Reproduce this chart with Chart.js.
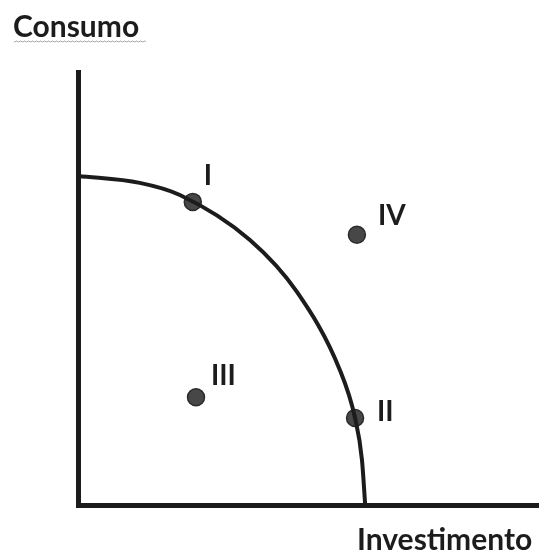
<!DOCTYPE html>
<html>
<head>
<meta charset="utf-8">
<script src="https://cdn.jsdelivr.net/npm/chart.js@4"></script>
<style>
  html, body { margin: 0; padding: 0; background: #fff; overflow: hidden; }
  #wrap { position: relative; width: 539px; height: 553px; }
</style>
</head>
<body>
<div id="wrap"><canvas id="ppf"></canvas></div>
<script>
// frontier (Investimento, Consumo)
const frontierX = [0, 13.4, 22.1, 37.3, 47.5, 56.8, 60.1, 61.6, 62.3];
const frontierY = [76, 74.4, 71.6, 61.2, 49.2, 31.2, 20.1, 10.4, 0];

// the four labelled combinations
const pointNames = ["I", "II", "III", "IV"];
const pointX = [24.9, 60.1, 25.6, 60.5];
const pointY = [70, 20.1, 24.9, 62.4];

const xTitle = "Investimento";
const yTitle = "Consumo";

const ink = "#1c1c1c";
const family = "Lato, 'Open Sans', sans-serif";

// roman numerals next to each point, plus the two axis names
const textPlugin = {
  id: "ppfText",
  afterDraw(chart) {
    const ctx = chart.ctx;
    const xs = chart.scales.x, ys = chart.scales.y;
    const offsets = [[11, -26], [22, -6], [15, -21], [21, -19]];
    ctx.save();
    ctx.fillStyle = ink;
    ctx.font = "bold 28px " + family;
    ctx.textAlign = "left";
    ctx.textBaseline = "middle";
    pointNames.forEach((name, i) => {
      const px = xs.getPixelForValue(pointX[i]);
      const py = ys.getPixelForValue(pointY[i]);
      ctx.fillText(name, px + offsets[i][0], py + offsets[i][1]);
    });

    ctx.font = "bold 30px " + family;
    ctx.textBaseline = "alphabetic";
    ctx.fillText(yTitle, 13, 37);
    ctx.fillText(xTitle, 357, 550);

    // faint wavy underline under the axis name
    ctx.beginPath();
    for (let x = 14; x <= 146; x += 1) {
      const yy = 41 + (Math.floor(x / 2) % 2 ? 1 : 0);
      if (x === 14) ctx.moveTo(x, yy); else ctx.lineTo(x, yy);
    }
    ctx.strokeStyle = "rgba(90,90,90,0.5)";
    ctx.lineWidth = 1;
    ctx.stroke();
    ctx.restore();
  }
};

// axes carry no ticks, so they take up no room of their own
const noRoom = (scale) => {
  if (scale.isHorizontal()) scale.height = 0; else scale.width = 0;
  scale.paddingLeft = scale.paddingRight = 0;
  scale.paddingTop = scale.paddingBottom = 0;
};

new Chart(document.getElementById("ppf"), {
  type: "scatter",
  data: {
    datasets: [
      {
        label: "Fronteira",
        data: frontierX.map((x, i) => ({ x: x, y: frontierY[i] })),
        showLine: true,
        borderColor: ink,
        borderWidth: 4,
        pointRadius: 0,
        cubicInterpolationMode: "monotone",
        fill: false
      },
      {
        label: "Pontos",
        data: pointX.map((x, i) => ({ x: x, y: pointY[i] })),
        pointRadius: 8.5,
        pointBackgroundColor: "#474747",
        pointBorderColor: "#2a2a2a",
        pointBorderWidth: 1.5
      }
    ]
  },
  options: {
    responsive: true,
    maintainAspectRatio: false,
    animation: false,
    layout: {
      autoPadding: false,
      padding: { left: 78, top: 72, right: 0, bottom: 48 }
    },
    plugins: {
      legend: { display: false },
      tooltip: { enabled: false }
    },
    scales: {
      x: {
        min: 0, max: 100,
        grid: { display: false },
        ticks: { display: false },
        border: { display: true, color: ink, width: 5 },
        afterFit: noRoom
      },
      y: {
        min: 0, max: 100,
        grid: { display: false },
        ticks: { display: false },
        border: { display: true, color: ink, width: 5 },
        afterFit: noRoom
      }
    }
  },
  plugins: [textPlugin]
});
</script>
</body>
</html>
